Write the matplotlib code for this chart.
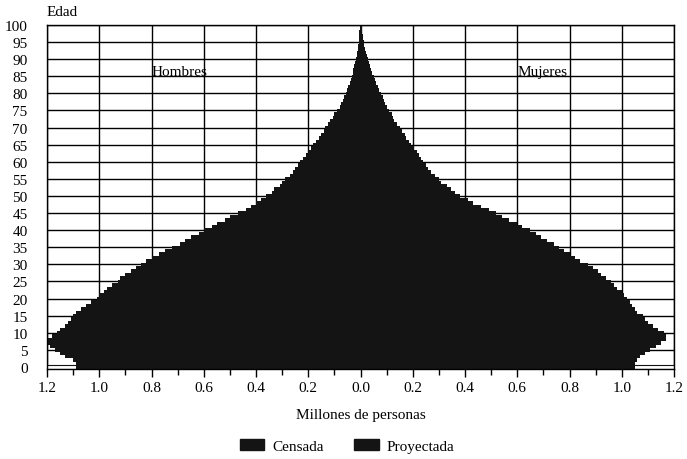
import numpy as np
import matplotlib
matplotlib.use("Agg")
import matplotlib.pyplot as plt
from matplotlib.patches import Patch

# edades simples 0..100
edades = list(range(0, 101))

# millones de personas, censada
hombres = [1.09, 1.09, 1.10, 1.13, 1.15, 1.17, 1.19, 1.20, 1.20, 1.18,
           1.16, 1.15, 1.13, 1.12, 1.11, 1.10, 1.09, 1.07, 1.05, 1.03,
           1.01, 1.00, 0.98, 0.97, 0.95, 0.93, 0.92, 0.90, 0.88, 0.86,
           0.84, 0.82, 0.80, 0.77, 0.75, 0.72, 0.69, 0.67, 0.65, 0.62,
           0.60, 0.57, 0.55, 0.52, 0.50, 0.47, 0.44, 0.42, 0.40, 0.38,
           0.36, 0.34, 0.33, 0.31, 0.30, 0.29, 0.27, 0.26, 0.25, 0.24,
           0.23, 0.22, 0.21, 0.20, 0.19, 0.18, 0.17, 0.16, 0.15, 0.14,
           0.135, 0.125, 0.115, 0.105, 0.10, 0.09, 0.08, 0.075, 0.068, 0.062,
           0.056, 0.05, 0.046, 0.042, 0.038, 0.034, 0.03, 0.027, 0.024, 0.021,
           0.018, 0.015, 0.013, 0.011, 0.009, 0.007, 0.006, 0.005, 0.004, 0.003,
           0.003]
mujeres = [1.05, 1.05, 1.06, 1.07, 1.09, 1.11, 1.13, 1.15, 1.17, 1.17,
           1.16, 1.14, 1.12, 1.10, 1.09, 1.08, 1.06, 1.05, 1.04, 1.03,
           1.02, 1.01, 1.00, 0.98, 0.97, 0.96, 0.94, 0.92, 0.91, 0.89,
           0.87, 0.84, 0.82, 0.80, 0.78, 0.76, 0.74, 0.715, 0.69, 0.67,
           0.65, 0.62, 0.60, 0.57, 0.54, 0.52, 0.49, 0.46, 0.43, 0.41,
           0.38, 0.36, 0.345, 0.33, 0.31, 0.30, 0.285, 0.27, 0.26, 0.25,
           0.24, 0.23, 0.225, 0.215, 0.205, 0.195, 0.185, 0.175, 0.17, 0.16,
           0.15, 0.14, 0.13, 0.125, 0.12, 0.11, 0.10, 0.095, 0.09, 0.085,
           0.078, 0.072, 0.066, 0.06, 0.055, 0.05, 0.045, 0.04, 0.036, 0.032,
           0.028, 0.025, 0.021, 0.018, 0.015, 0.012, 0.01, 0.008, 0.007, 0.006,
           0.006]

# proyectada (solo edad 0)
edades_proy = [0]
hombres_proy = [1.2]
mujeres_proy = [1.2]

xticks = [-1.2, -1.0, -0.8, -0.6, -0.4, -0.2, 0.0, 0.2, 0.4, 0.6, 0.8, 1.0, 1.2]
yticks = list(range(0, 101, 5))

plt.rcParams['font.family'] = ['Liberation Serif', 'DejaVu Serif']

fig = plt.figure(figsize=(6.87, 4.6), dpi=100)
ax = fig.add_axes([47/687, 1-370/460, 627/687, 344/460])
ax.set_axisbelow(True)

col = "#141414"
ax.barh(edades_proy, [-v for v in hombres_proy], height=1.0, color="white",
        edgecolor=col, linewidth=0.8)
ax.barh(edades_proy, mujeres_proy, height=1.0, color="white",
        edgecolor=col, linewidth=0.8)
ax.barh(edades, [-v for v in hombres], height=1.0, color=col, linewidth=0)
ax.barh(edades, mujeres, height=1.0, color=col, linewidth=0)

ax.set_xlim(-1.2, 1.2)
ax.set_ylim(-0.6, 100)
ax.set_xticks(xticks)
ax.set_xticklabels(["%.1f" % abs(v) for v in xticks], fontsize=11)
ax.set_xticks(np.arange(-1.1, 1.2, 0.2), minor=True)
ax.set_yticks(yticks)
ax.set_yticklabels([str(v) for v in yticks], fontsize=11)
ax.tick_params(axis='y', length=0, pad=14)
ax.tick_params(axis='x', which='major', length=6, width=1, direction='out', pad=3)
ax.tick_params(axis='x', which='minor', length=4, width=1, direction='out')
ax.grid(True, color="black", linewidth=1.0)
for s in ax.spines.values():
    s.set_color("black")
    s.set_linewidth(1.0)

ax.text(-0.80, 86.5, "Hombres", fontsize=11, ha="left", va="center")
ax.text(0.60, 86.5, "Mujeres", fontsize=11, ha="left", va="center")
fig.text(47/687, 1-13/460, "Edad", fontsize=11, ha="left", va="center")

ax.set_xlabel("Millones de personas", fontsize=11, labelpad=10)

handles = [Patch(facecolor=col, edgecolor=col), Patch(facecolor=col, edgecolor=col)]
fig.legend(handles, ["Censada", "Proyectada"], loc="center", ncol=2,
           bbox_to_anchor=(0.505, 1-447/460), frameon=False, fontsize=11,
           handlelength=1.6, handleheight=0.7, columnspacing=2.0, handletextpad=0.5)

fig.savefig("out.png", dpi=100)
